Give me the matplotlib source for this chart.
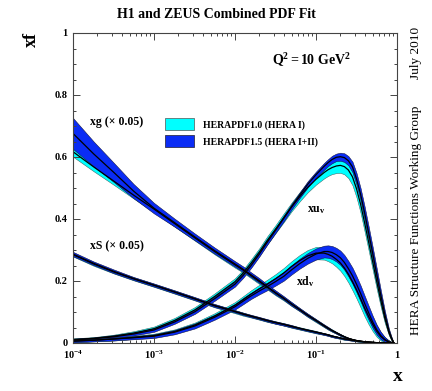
# HERAPDF1.0 vs HERAPDF1.5 parton densities at Q2 = 10 GeV2

import numpy as np
import matplotlib
matplotlib.use("Agg")
import matplotlib.pyplot as plt
from matplotlib.patches import Patch
from matplotlib.ticker import MultipleLocator, LogLocator, NullFormatter, FixedLocator

plt.rcParams['font.family'] = ['Liberation Serif', 'DejaVu Serif']
plt.rcParams['mathtext.fontset'] = 'custom'
plt.rcParams['mathtext.rm'] = 'Liberation Serif'
plt.rcParams['mathtext.it'] = 'Liberation Serif:italic'
plt.rcParams['mathtext.bf'] = 'Liberation Serif:bold'

x = [0.0001, 0.00018, 0.00032, 0.00056, 0.001, 0.0018, 0.0032, 0.0056,
     0.01, 0.0126, 0.0158, 0.02, 0.025, 0.0316, 0.04, 0.05, 0.063, 0.079,
     0.1, 0.126, 0.141, 0.158, 0.178, 0.2, 0.224, 0.251, 0.282, 0.316,
     0.355, 0.398, 0.447, 0.501, 0.562, 0.631, 0.708, 0.794, 0.851, 0.912]

# xu_v
xuv_15 = [0.010, 0.014, 0.020, 0.029, 0.042, 0.068, 0.101, 0.143,
          0.190, 0.218, 0.250, 0.287, 0.325, 0.363, 0.402, 0.440, 0.477, 0.512,
          0.543, 0.570, 0.582, 0.592, 0.599, 0.601, 0.598, 0.588, 0.568, 0.530,
          0.480, 0.420, 0.355, 0.290, 0.222, 0.155, 0.092, 0.040, 0.018, 0.0]
xuv_15_err = [0.004, 0.004, 0.005, 0.005, 0.006, 0.006, 0.007, 0.007,
              0.008, 0.008, 0.008, 0.008, 0.008, 0.008, 0.009, 0.009, 0.009, 0.010,
              0.010, 0.011, 0.011, 0.012, 0.012, 0.013, 0.014, 0.015, 0.017, 0.019,
              0.020, 0.021, 0.021, 0.020, 0.019, 0.016, 0.012, 0.007, 0.004, 0.0]
xuv_10 = [0.011, 0.015, 0.022, 0.032, 0.046, 0.073, 0.107, 0.150,
          0.198, 0.226, 0.258, 0.294, 0.331, 0.367, 0.404, 0.439, 0.472, 0.502,
          0.528, 0.550, 0.559, 0.566, 0.571, 0.573, 0.569, 0.558, 0.536, 0.498,
          0.448, 0.388, 0.325, 0.262, 0.198, 0.136, 0.079, 0.033, 0.014, 0.0]
xuv_10_err = [0.004, 0.004, 0.005, 0.006, 0.007, 0.008, 0.009, 0.010,
              0.011, 0.011, 0.012, 0.012, 0.013, 0.013, 0.014, 0.014, 0.015, 0.016,
              0.017, 0.019, 0.020, 0.021, 0.023, 0.024, 0.025, 0.026, 0.027, 0.028,
              0.028, 0.028, 0.027, 0.026, 0.024, 0.020, 0.015, 0.008, 0.005, 0.0]

# xd_v
xdv_15 = [0.006, 0.009, 0.013, 0.017, 0.022, 0.035, 0.055, 0.083,
          0.117, 0.135, 0.152, 0.168, 0.182, 0.198, 0.215, 0.236, 0.256, 0.273,
          0.287, 0.295, 0.295, 0.292, 0.285, 0.275, 0.260, 0.240, 0.217, 0.190,
          0.160, 0.128, 0.097, 0.068, 0.043, 0.024, 0.011, 0.004, 0.002, 0.0]
xdv_15_err = [0.004, 0.004, 0.005, 0.005, 0.006, 0.007, 0.008, 0.008,
              0.009, 0.010, 0.010, 0.011, 0.012, 0.013, 0.014, 0.015, 0.016, 0.017,
              0.018, 0.019, 0.020, 0.021, 0.022, 0.023, 0.024, 0.025, 0.026, 0.026,
              0.026, 0.025, 0.023, 0.020, 0.016, 0.012, 0.008, 0.004, 0.002, 0.0]
xdv_10 = [0.006, 0.009, 0.013, 0.018, 0.024, 0.037, 0.058, 0.087,
          0.122, 0.140, 0.158, 0.175, 0.190, 0.207, 0.226, 0.247, 0.266, 0.281,
          0.290, 0.290, 0.286, 0.280, 0.270, 0.258, 0.242, 0.222, 0.198, 0.172,
          0.143, 0.113, 0.085, 0.060, 0.038, 0.021, 0.010, 0.003, 0.001, 0.0]
xdv_10_err = [0.004, 0.004, 0.005, 0.005, 0.006, 0.007, 0.008, 0.009,
              0.010, 0.011, 0.012, 0.013, 0.014, 0.015, 0.016, 0.017, 0.018, 0.019,
              0.020, 0.021, 0.022, 0.023, 0.024, 0.025, 0.026, 0.027, 0.028, 0.028,
              0.028, 0.027, 0.025, 0.022, 0.018, 0.013, 0.009, 0.005, 0.003, 0.0]

# xg (x 0.05)
xg_15 = [0.676, 0.610, 0.550, 0.490, 0.435, 0.388, 0.342, 0.298,
         0.255, 0.238, 0.220, 0.201, 0.182, 0.163, 0.145, 0.126, 0.108, 0.090,
         0.073, 0.056, 0.048, 0.040, 0.033, 0.026, 0.020, 0.015, 0.011, 0.008,
         0.006, 0.004, 0.003, 0.002, 0.001, 0.001, 0.0, 0.0, 0.0, 0.0]
xg_15_err = [0.050, 0.040, 0.031, 0.023, 0.017, 0.013, 0.011, 0.010,
             0.009, 0.009, 0.008, 0.008, 0.007, 0.007, 0.006, 0.006, 0.005, 0.005,
             0.004, 0.004, 0.004, 0.003, 0.003, 0.003, 0.002, 0.002, 0.002, 0.002,
             0.001, 0.001, 0.001, 0.001, 0.001, 0.0, 0.0, 0.0, 0.0, 0.0]
xg_10 = [0.617, 0.568, 0.522, 0.477, 0.432, 0.385, 0.339, 0.295,
         0.252, 0.235, 0.217, 0.198, 0.180, 0.161, 0.143, 0.125, 0.107, 0.089,
         0.072, 0.055, 0.047, 0.040, 0.033, 0.026, 0.020, 0.015, 0.011, 0.008,
         0.006, 0.004, 0.003, 0.002, 0.001, 0.001, 0.0, 0.0, 0.0, 0.0]
xg_10_err = [0.016, 0.014, 0.012, 0.011, 0.010, 0.010, 0.009, 0.009,
             0.009, 0.008, 0.008, 0.008, 0.007, 0.007, 0.006, 0.006, 0.005, 0.005,
             0.005, 0.004, 0.004, 0.004, 0.003, 0.003, 0.003, 0.002, 0.002, 0.002,
             0.002, 0.001, 0.001, 0.001, 0.001, 0.0, 0.0, 0.0, 0.0, 0.0]

# xS (x 0.05)
xs_15 = [0.287, 0.257, 0.231, 0.208, 0.187, 0.165, 0.143, 0.121,
         0.102, 0.094, 0.087, 0.080, 0.073, 0.066, 0.060, 0.054, 0.047, 0.041,
         0.035, 0.029, 0.026, 0.022, 0.019, 0.016, 0.013, 0.011, 0.009, 0.007,
         0.005, 0.004, 0.003, 0.002, 0.001, 0.001, 0.0, 0.0, 0.0, 0.0]
xs_15_err = [0.007, 0.006, 0.006, 0.005, 0.005, 0.005, 0.005, 0.005,
             0.004, 0.004, 0.004, 0.004, 0.004, 0.004, 0.004, 0.004, 0.003, 0.003,
             0.003, 0.003, 0.003, 0.003, 0.003, 0.002, 0.002, 0.002, 0.002, 0.002,
             0.001, 0.001, 0.001, 0.001, 0.001, 0.0, 0.0, 0.0, 0.0, 0.0]
xs_10 = [0.285, 0.255, 0.229, 0.207, 0.186, 0.164, 0.142, 0.120,
         0.101, 0.093, 0.086, 0.079, 0.072, 0.066, 0.060, 0.053, 0.047, 0.041,
         0.035, 0.029, 0.026, 0.022, 0.019, 0.016, 0.013, 0.011, 0.009, 0.007,
         0.005, 0.004, 0.003, 0.002, 0.001, 0.001, 0.0, 0.0, 0.0, 0.0]
xs_10_err = [0.006, 0.006, 0.005, 0.005, 0.005, 0.005, 0.005, 0.005,
             0.005, 0.005, 0.004, 0.004, 0.004, 0.004, 0.004, 0.004, 0.004, 0.004,
             0.004, 0.003, 0.003, 0.003, 0.003, 0.003, 0.003, 0.002, 0.002, 0.002,
             0.002, 0.001, 0.001, 0.001, 0.001, 0.0, 0.0, 0.0, 0.0, 0.0]

col_10 = '#00ffff'
col_15 = '#0a2cf5'
labels = ['HERAPDF1.0 (HERA I)', 'HERAPDF1.5 (HERA I+II)']

fig = plt.figure(figsize=(4.32, 3.91), dpi=100)
ax = fig.add_axes([73 / 432, 1 - 343 / 391, 324 / 432, 310 / 391])


def band(c, e, color, edge):
    c = np.array(c)
    e = np.array(e)
    ax.fill_between(x, c - e, c + e, facecolor=color, edgecolor=edge, linewidth=0.35)


pdfs = [(xuv_10, xuv_10_err, xuv_15, xuv_15_err),
        (xdv_10, xdv_10_err, xdv_15, xdv_15_err),
        (xs_10, xs_10_err, xs_15, xs_15_err),
        (xg_10, xg_10_err, xg_15, xg_15_err)]

for c10, e10, c15, e15 in pdfs:
    band(c10, e10, col_10, '#3c5a5a')
    band(c15, e15, col_15, '#101030')
    ax.plot(x, c10, color='black', lw=0.9)
    ax.plot(x, c15, color='black', lw=0.9)

ax.set_xscale('log')
ax.set_xlim(1e-4, 1)
ax.set_ylim(0, 1)

ax.xaxis.set_major_locator(FixedLocator([1e-4, 1e-3, 1e-2, 1e-1, 1]))
ax.set_xticklabels([r'$\mathbf{10^{-4}}$', r'$\mathbf{10^{-3}}$', r'$\mathbf{10^{-2}}$',
                    r'$\mathbf{10^{-1}}$', r'$\mathbf{1}$'])
ax.xaxis.set_minor_locator(LogLocator(base=10, subs=np.arange(2, 10), numticks=20))
ax.xaxis.set_minor_formatter(NullFormatter())
ax.set_yticks([0, 0.2, 0.4, 0.6, 0.8, 1])
ax.set_yticklabels(['0', '0.2', '0.4', '0.6', '0.8', '1'])
ax.yaxis.set_minor_locator(MultipleLocator(0.05))

ax.tick_params(which='both', direction='in', top=True, right=True, width=0.7, color='#444444')
ax.tick_params(which='major', length=5)
ax.tick_params(which='minor', length=2.5)
ax.tick_params(axis='both', labelsize=7.5, pad=4)
for lab in ax.get_yticklabels():
    lab.set_fontweight('bold')
for sp in ax.spines.values():
    sp.set_linewidth(0.8)
    sp.set_color('#444444')

# annotations
ax.text(0.052, 0.713, 'xg (\u00d7 0.05)', transform=ax.transAxes, fontsize=8.5,
        fontweight='bold', va='center')
ax.text(0.052, 0.313, 'xS (\u00d7 0.05)', transform=ax.transAxes, fontsize=8.5,
        fontweight='bold', va='center')
ax.text(0.752, 0.429, r'$\mathbf{xu_v}$', transform=ax.transAxes, fontsize=8.5,
        ha='center', va='center')
ax.text(0.716, 0.198, r'$\mathbf{xd_v}$', transform=ax.transAxes, fontsize=8.5,
        ha='center', va='center')
ax.text(0.736, 0.913, r'$\mathbf{Q^2 = 10\ GeV^2}$', transform=ax.transAxes,
        fontsize=10, ha='center', va='center')

handles = [Patch(facecolor=col_10, edgecolor='#5a7070', lw=0.6),
           Patch(facecolor=col_15, edgecolor='#303050', lw=0.6)]
ax.legend(handles, labels, loc='upper left', bbox_to_anchor=(0.284, 0.725),
          frameon=False, prop={'size': 7, 'weight': 'bold'}, handlelength=3.0,
          handleheight=1.5, handletextpad=0.9, labelspacing=0.55,
          borderpad=0, borderaxespad=0)

fig.text(0.5, 0.964, 'H1 and ZEUS Combined PDF Fit', ha='center', va='center',
         fontsize=10, fontweight='bold')
fig.text(0.072, 0.898, 'xf', rotation=90, ha='center', va='center',
         fontsize=13, fontweight='bold')
fig.text(0.921, 0.036, 'x', ha='center', va='center', fontsize=14, fontweight='bold')
fig.text(0.963, 0.864, 'July 2010', rotation=90, ha='center', va='center', fontsize=9.5)
fig.text(0.963, 0.437, 'HERA Structure Functions Working Group', rotation=90,
         ha='center', va='center', fontsize=9.5)

fig.savefig('out.png', dpi=100)
